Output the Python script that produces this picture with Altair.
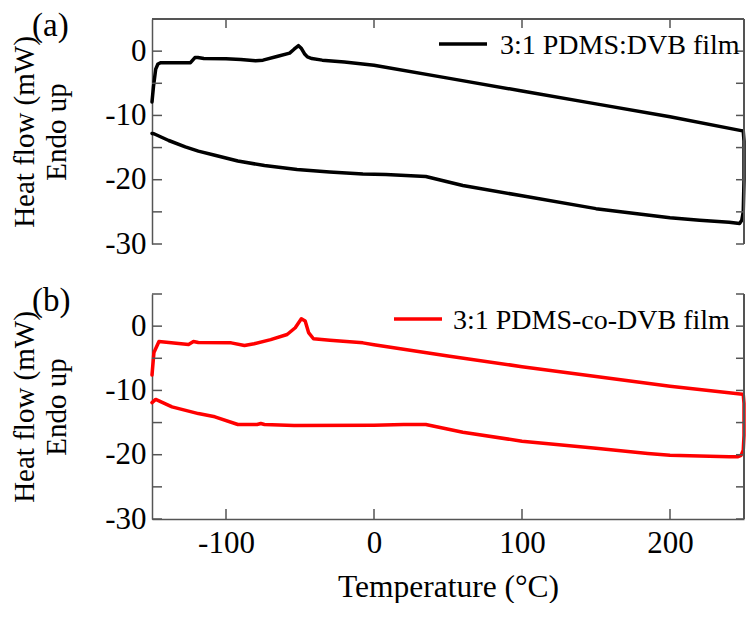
import altair as alt
import pandas as pd

# ---------------- data ----------------
series_names = ["3:1 PDMS:DVB film", "3:1 PDMS-co-DVB film"]
series_colors = ["#000000", "#ff0000"]
panel_tags = ["(a)", "(b)"]

# panel (a): heating curve, jump at 250 °C, cooling curve (traversal order)
temp_a = [-150, -149, -147.5, -146, -144, -124, -122.5, -121, -119, -115, -100, -90, -80, -75,
          -65, -57, -54, -51, -49, -47, -45, -42, -35, -20, 0, 50, 100, 150, 200, 249,
          249.5, 250, 250, 249.5, 248.5, 247,
          240, 220, 200, 150, 100, 60, 35, 8, -7.5, -30, -52, -74, -92, -107.5, -118.7, -127.5,
          -138.7, -148.7, -150]
heat_a = [-7.9, -5.5, -2.8, -2.0, -1.8, -1.8, -1.4, -1.0, -1.0, -1.15, -1.2, -1.3, -1.5, -1.4,
          -0.8, -0.3, 0.3, 0.85, 0.4, -0.4, -0.9, -1.15, -1.4, -1.7, -2.2, -4.2, -6.2, -8.2, -10.2, -12.4,
          -12.4, -14.0, -20.0, -25.0, -26.3, -26.8,
          -26.6, -26.3, -25.9, -24.5, -22.5, -20.9, -19.5, -19.2, -19.1, -18.8, -18.4, -17.8, -17.1, -16.2, -15.55, -14.9,
          -13.9, -12.85, -12.8]

# panel (b)
temp_b = [-150, -148.7, -145.3, -132, -125.3, -122, -118.7, -96.5, -87.5, -81, -69.8, -58.7,
          -53.2, -49.1, -46.5, -44.2, -40.9, -29.8, -7.5, 0, 50, 100, 150, 200, 249,
          249.5, 250, 250, 249.5, 248, 246,
          240, 220, 200, 185, 150, 100, 60, 35, 20, 0, -54, -74, -76.5, -79, -92, -107.5, -118.7,
          -136.5, -147.5, -150]
heat_b = [-7.6, -4.1, -2.4, -2.7, -2.85, -2.4, -2.55, -2.6, -3.0, -2.75, -2.1, -1.3,
          -0.25, 1.15, 0.8, -1.0, -1.96, -2.2, -2.6, -2.9, -4.65, -6.3, -7.85, -9.35, -10.6,
          -10.6, -12.0, -17.0, -19.3, -20.1, -20.3,
          -20.3, -20.2, -20.1, -19.8, -19.0, -17.9, -16.5, -15.3, -15.3, -15.4, -15.45, -15.3, -15.15, -15.3, -15.3, -14.1, -13.6,
          -12.55, -11.4, -11.9]

x_tick_values = [-100, 0, 100, 200]
y_label_values = [0, -10, -20, -30]
y_tick_values_a = [0, -5, -10, -15, -20, -25, -30]
y_tick_values_b = [5, 0, -5, -10, -15, -20, -25, -30]

# ---------------- styling ----------------
W, H = 592, 225
FONT = "Liberation Serif, Times New Roman, serif"
AXIS_COLOR = "#555555"
x_scale = alt.Scale(domain=[-150, 250], nice=False, zero=False)
y_scale = alt.Scale(domain=[-30, 5], nice=False, zero=False)


def y_axis():
    return alt.Axis(values=y_label_values, ticks=False, tickSize=0, grid=False,
                    domain=True, domainColor=AXIS_COLOR, domainWidth=1.5,
                    labelFont=FONT, labelFontSize=31, labelColor="black", labelPadding=6,
                    labelExpr="datum.value + ''",
                    title=["Heat flow (mW)", "Endo up"], titleFont=FONT, titleFontSize=29,
                    titleFontWeight="normal", titleColor="black", titleLineHeight=32,
                    titlePadding=33)


def panel(temps, heats, name, color, tag, y_ticks, top_frame, legend_pos):
    df = pd.DataFrame({"T": temps, "HF": heats, "i": range(len(temps))})
    if top_frame:
        x_enc = alt.X("T:Q", scale=x_scale, axis=None)
    else:
        x_enc = alt.X("T:Q", scale=x_scale,
                      axis=alt.Axis(values=x_tick_values, ticks=False, tickSize=0, grid=False,
                                    domain=True, domainColor=AXIS_COLOR, domainWidth=1.5,
                                    labelFont=FONT, labelFontSize=31, labelColor="black",
                                    labelPadding=9, labelExpr="datum.value + ''",
                                    title="Temperature (°C)", titleFont=FONT, titleFontSize=31.5,
                                    titleFontWeight="normal", titleColor="black",
                                    titlePadding=13))
    line = alt.Chart(df).mark_line(color=color, strokeWidth=3.5, strokeJoin="round",
                                   strokeCap="round").encode(
        x=x_enc,
        y=alt.Y("HF:Q", scale=y_scale, axis=y_axis()),
        order="i:Q",
    )

    yt = pd.DataFrame({"v": y_ticks})
    xt = pd.DataFrame({"v": x_tick_values})
    left_ticks = alt.Chart(yt).mark_rule(color=AXIS_COLOR, strokeWidth=1.5).encode(
        y=alt.Y("v:Q", scale=y_scale), x=alt.value(0), x2=alt.value(10))
    right_ticks = alt.Chart(yt).mark_rule(color=AXIS_COLOR, strokeWidth=1.5).encode(
        y=alt.Y("v:Q", scale=y_scale), x=alt.value(W - 8), x2=alt.value(W))
    right_frame = alt.Chart(yt).mark_rule(color=AXIS_COLOR, strokeWidth=1.5).encode(
        x=alt.value(W), y=alt.value(0), y2=alt.value(H))
    layers = [line, left_ticks, right_ticks, right_frame]
    if top_frame:
        top_line = alt.Chart(xt).mark_rule(color=AXIS_COLOR, strokeWidth=1.5).encode(
            y=alt.value(0), x=alt.value(0), x2=alt.value(W))
        top_ticks = alt.Chart(xt).mark_rule(color=AXIS_COLOR, strokeWidth=1.5).encode(
            x=alt.X("v:Q", scale=x_scale), y=alt.value(0), y2=alt.value(9))
        layers += [top_line, top_ticks]
    else:
        bottom_ticks = alt.Chart(xt).mark_rule(color=AXIS_COLOR, strokeWidth=1.5).encode(
            x=alt.X("v:Q", scale=x_scale), y=alt.value(H), y2=alt.value(H - 10))
        layers += [bottom_ticks]

    lx0, lx1, ly, tx = legend_pos
    leg_df = pd.DataFrame({"name": [name]})
    leg_line = alt.Chart(leg_df).mark_rule(color=color, strokeWidth=3.5).encode(
        x=alt.value(lx0), x2=alt.value(lx1), y=alt.value(ly))
    leg_text = alt.Chart(leg_df).mark_text(font=FONT, fontSize=28, color="black",
                                           align="left", baseline="alphabetic").encode(
        text="name:N", x=alt.value(tx), y=alt.value(ly + 10))
    tag_df = pd.DataFrame({"tag": [tag]})
    tag_text = alt.Chart(tag_df).mark_text(font=FONT, fontSize=33, color="black",
                                           align="left", baseline="alphabetic").encode(
        text="tag:N", x=alt.value(-120), y=alt.value(17))
    layers += [leg_line, leg_text, tag_text]
    return alt.layer(*layers).properties(width=W, height=H)


panel_a = panel(temp_a, heat_a, series_names[0], series_colors[0], panel_tags[0],
                y_tick_values_a, True, (287, 335, 25, 348))
panel_b = panel(temp_b, heat_b, series_names[1], series_colors[1], panel_tags[1],
                y_tick_values_b, False, (242, 290, 25, 301))

chart = alt.vconcat(panel_a, panel_b, spacing=50, bounds="flush").properties(
    padding={"left": 2, "top": 2, "right": 0, "bottom": 0},
    background="white",
).configure(font=FONT).configure_view(stroke=None).configure_axis(
    labelFont=FONT, titleFont=FONT
).configure_text(font=FONT)

chart.save("out.html", embed_options={"renderer": "svg", "actions": False})
